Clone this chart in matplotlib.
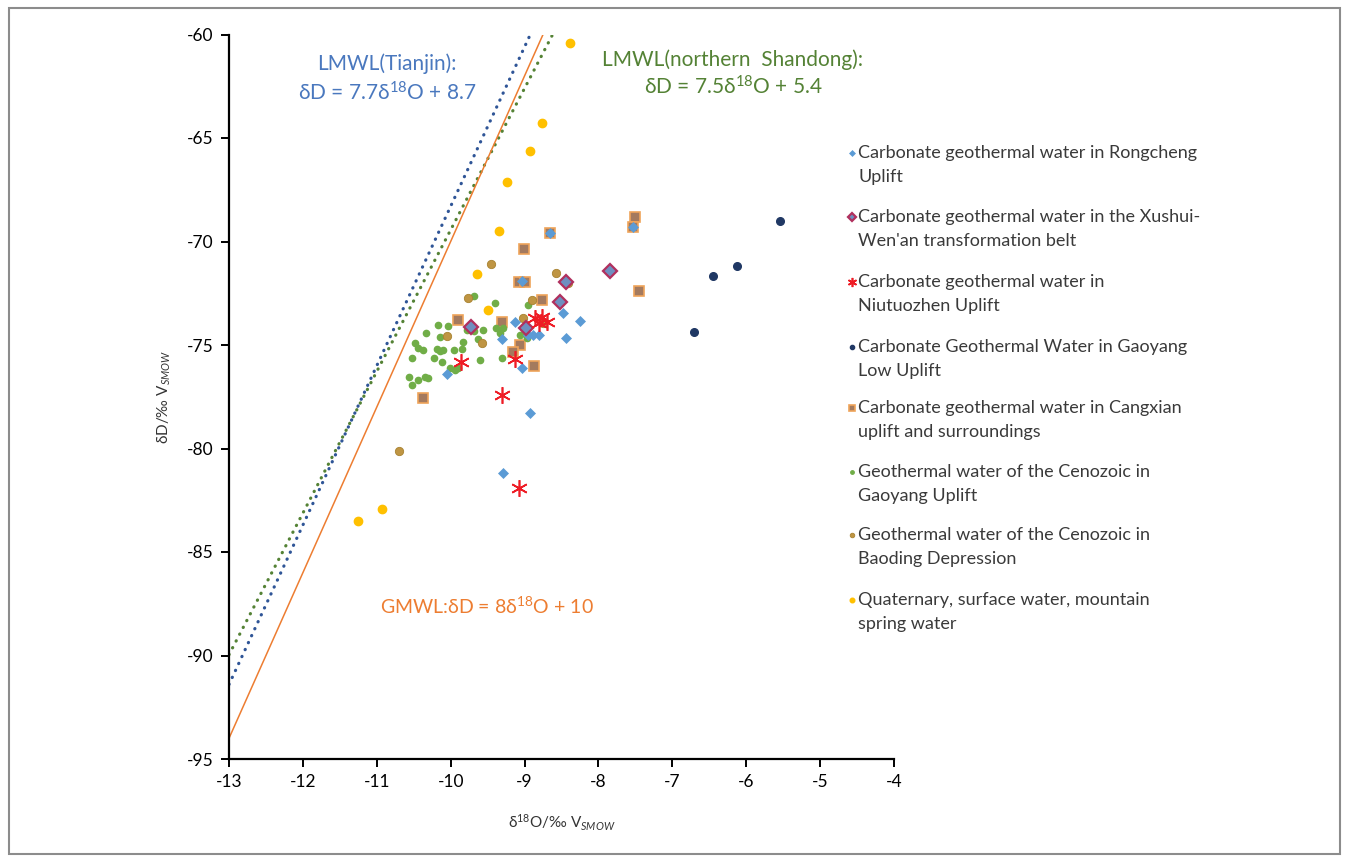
import numpy as np
import matplotlib.pyplot as plt
from matplotlib.patches import Rectangle

plt.rcParams['font.family'] = ['Lato', 'DejaVu Sans']
plt.rcParams['mathtext.fontset'] = 'custom'
plt.rcParams['mathtext.rm'] = 'Lato'
plt.rcParams['mathtext.it'] = 'Lato:italic'
plt.rcParams['axes.unicode_minus'] = False

# ---- data (d18O, dD) ----
rong_x = [-9.29, -8.93, -10.05, -9.04, -9.31, -8.44, -8.25, -8.48, -9.13, -8.88, -8.81, -8.95, -8.66, -7.53, -9.04]
rong_y = [-81.2, -78.3, -76.42, -76.09, -74.73, -74.66, -73.84, -73.47, -73.90, -74.52, -74.52, -74.52, -69.6, -69.28, -71.93]

xushui_x = [-7.84, -8.44, -8.52, -8.98, -9.73]
xushui_y = [-71.43, -71.97, -72.94, -74.16, -74.12]

niu_x = [-9.86, -9.13, -9.30, -9.07, -8.86, -8.77, -8.70, -8.81]
niu_y = [-75.8, -75.68, -77.43, -81.92, -73.71, -73.63, -73.87, -73.95]

gylow_x = [-5.54, -6.13, -6.45, -6.71]
gylow_y = [-69.0, -71.18, -71.65, -74.39]

cang_x = [-7.51, -7.53, -8.66, -9.01, -9.07, -9.00, -7.45, -8.77, -9.90, -9.31, -9.06, -9.15, -8.87, -10.37]
cang_y = [-68.83, -69.28, -69.6, -70.36, -71.95, -71.95, -72.38, -72.82, -73.80, -73.90, -75.0, -75.32, -76.0, -77.55]

green_x = [-9.69, -9.40, -8.95, -10.17, -10.04, -10.33, -10.15, -9.83, -9.56, -9.63,
           -9.78, -9.69, -10.48, -10.44, -10.37, -10.19, -10.14, -10.10, -9.96, -9.85,
           -10.53, -10.23, -10.12, -9.60, -10.01, -9.94, -9.90, -10.35, -10.31, -10.57,
           -10.53, -10.44, -9.33, -9.38, -9.31, -9.06, -8.97, -9.29]
green_y = [-72.62, -72.99, -73.05, -74.05, -74.07, -74.44, -74.60, -74.84, -74.27, -74.73,
           -74.27, -74.31, -74.92, -75.16, -75.24, -75.21, -75.27, -75.22, -75.24, -75.21,
           -75.64, -75.61, -75.80, -75.72, -76.13, -76.20, -76.13, -76.53, -76.61, -76.53,
           -76.93, -76.69, -74.40, -74.19, -75.64, -74.52, -74.68, -74.19]

baoding_x = [-10.70, -9.45, -8.58, -8.41, -9.76, -8.90, -9.02, -8.75, -10.05, -9.58]
baoding_y = [-80.12, -71.1, -71.54, -72.0, -72.74, -72.82, -73.71, -73.95, -74.57, -74.92]

quat_x = [-8.38, -8.76, -8.93, -9.24, -9.34, -9.65, -9.49, -11.26, -10.93]
quat_y = [-60.43, -64.26, -65.63, -67.11, -69.48, -71.57, -73.31, -83.5, -82.94]

# meteoric water lines as drawn (slope, intercept)
gmwl = (8.0, 10.0)
lmwl_tj = (7.7, 8.7)
lmwl_sd = (6.84, -1.04)

labels = [
    ["Carbonate geothermal water in Rongcheng", "Uplift"],
    ["Carbonate geothermal water in the Xushui-", "Wen'an transformation belt"],
    ["Carbonate geothermal water in", "Niutuozhen Uplift"],
    ["Carbonate Geothermal Water in Gaoyang", "Low Uplift"],
    ["Carbonate geothermal water in Cangxian", "uplift and surroundings"],
    ["Geothermal water of the Cenozoic in", "Gaoyang Uplift"],
    ["Geothermal water of the Cenozoic in", "Baoding Depression"],
    ["Quaternary, surface water, mountain", "spring water"],
]

W, H = 1357, 858
fig = plt.figure(figsize=(W / 100, H / 100), dpi=100)
ax = fig.add_axes([229 / W, 1 - 759 / H, (894 - 229) / W, (759 - 34.5) / H])

xs = np.linspace(-13, -4, 200)
for (m, b), col, ls, lw in [(lmwl_tj, '#2F5597', (0, (0.1, 2.3)), 2.3),
                            (lmwl_sd, '#548235', (0, (0.1, 2.3)), 2.3),
                            (gmwl, '#ED7D31', '-', 1.1)]:
    ax.plot(xs, m * xs + b, color=col, linestyle=ls, lw=lw, dash_capstyle='round', zorder=1)

# series styles
styles = [
    dict(marker='D', ms=5.5, mfc='#5B9BD5', mec='#5B9BD5', mew=0.5),
    dict(marker='D', ms=7, mfc='#6E8FC0', mec='#B0305E', mew=1.6),
    dict(marker=(6, 2, 0), ms=12, color='#EE1C25', mew=1.2),
    dict(marker='o', ms=5.5, mfc='#203864', mec='#203864'),
    dict(marker='s', ms=7, mfc='#A47A5E', mec='#EFA45A', mew=1.2),
    dict(marker='o', ms=4.5, mfc='#70AD47', mec='#70AD47'),
    dict(marker='o', ms=6, mfc='#BF9543', mec='#A88230', mew=0.6),
    dict(marker='o', ms=6, mfc='#FFC000', mec='#FFC000'),
]
series = [(cang_x, cang_y, 4), (green_x, green_y, 5), (baoding_x, baoding_y, 6),
          (quat_x, quat_y, 7), (rong_x, rong_y, 0), (gylow_x, gylow_y, 3),
          (xushui_x, xushui_y, 1), (niu_x, niu_y, 2)]
for sx, sy, k in series:
    ax.plot(sx, sy, linestyle='none', zorder=3, **styles[k])

ax.set_xlim(-13, -4)
ax.set_ylim(-95, -60)
ax.set_xticks(np.arange(-13, -3, 1))
ax.set_yticks(np.arange(-95, -59, 5))
for s in ['top', 'right']:
    ax.spines[s].set_visible(False)
for s in ['left', 'bottom']:
    ax.spines[s].set_linewidth(1.6)
ax.tick_params(direction='out', length=6, width=1.4, labelsize=12.5, pad=5)

ax.set_xlabel(r'δ$^{18}$O/‰ V$_{\mathit{SMOW}}$', fontsize=11, color='#333333', labelpad=16)
ax.set_ylabel(r'δD/‰ V$_{\mathit{SMOW}}$', fontsize=11, color='#333333', labelpad=10)

# line equations
ax.text(-10.86, -61.4, 'LMWL(Tianjin):', color='#4A78BE', fontsize=15, ha='center', va='center')
ax.text(-10.86, -62.8, r'δD = 7.7δ$^{18}$O + 8.7', color='#4A78BE', fontsize=15, ha='center', va='center')
ax.text(-6.18, -61.2, 'LMWL(northern  Shandong):', color='#548235', fontsize=15, ha='center', va='center')
ax.text(-6.18, -62.55, r'δD = 7.5δ$^{18}$O + 5.4', color='#548235', fontsize=15, ha='center', va='center')
ax.text(-9.51, -87.6, r'GMWL:δD = 8δ$^{18}$O + 10', color='#ED7D31', fontsize=14, ha='center', va='center')

# legend drawn by hand so the marker sits on the first line
first_y = [153, 216.7, 281.7, 346.7, 408, 471.7, 535, 600]
for k, (lab, yy) in enumerate(zip(labels, first_y)):
    st = dict(styles[k])
    st['ms'] = st['ms'] * 0.55
    fig.add_artist(plt.Line2D([851.5 / W], [1 - yy / H], linestyle='none', **st))
    fig.text(858 / W, 1 - yy / H, lab[0], fontsize=13, color='#3a3a3a', va='center')
    fig.text(858 / W, 1 - (yy + 24) / H, lab[1], fontsize=13, color='#3a3a3a', va='center')

fig.add_artist(Rectangle((9 / W, 4 / H), 1331 / W, 846 / H, transform=fig.transFigure,
                         fill=False, edgecolor='#8c8c8c', lw=1.5))

fig.savefig('out.png', dpi=100)
